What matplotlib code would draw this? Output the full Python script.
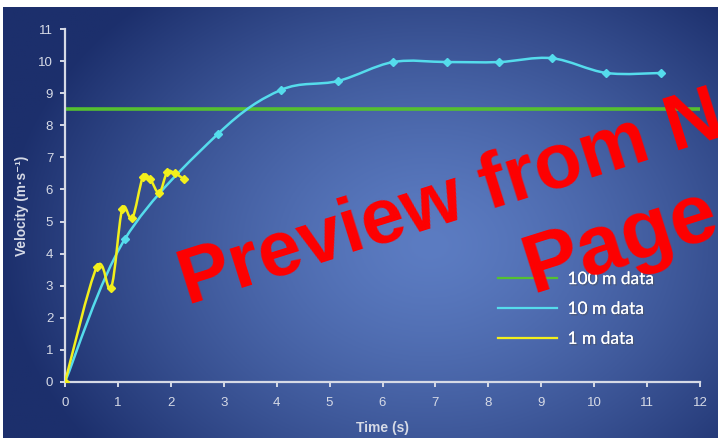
import numpy as np
import matplotlib
matplotlib.use("Agg")
import matplotlib.pyplot as plt
from matplotlib.path import Path
from matplotlib.patches import PathPatch
from matplotlib.lines import Line2D
import matplotlib.patheffects as pe

# ---------------- data ----------------
t_10m = [0.0, 1.13, 2.89, 4.08, 5.16, 6.20, 7.22, 8.20, 9.20, 10.23, 11.27]
v_10m = [0.0, 4.45, 7.73, 9.10, 9.38, 9.97, 9.97, 9.97, 10.09, 9.63, 9.63]

t_1m = [0.0, 0.60, 0.87, 1.08, 1.27, 1.47, 1.61, 1.78, 1.93, 2.08, 2.25]
v_1m = [0.0, 3.58, 2.93, 5.38, 5.10, 6.38, 6.32, 5.89, 6.54, 6.50, 6.32]

v_100m = 8.5

series_labels = ["100 m data", "10 m data", "1 m data"]
x_ticks = list(range(0, 13))
y_ticks = list(range(0, 12))

# colours
C_GREEN = "#55c030"
C_CYAN = "#55dcec"
C_YELLOW = "#f2ef1c"
C_AXIS = "#d6dae6"

W, H = 718, 438
fig = plt.figure(figsize=(W / 100, H / 100), dpi=100)
fig.patch.set_facecolor("white")

# ---------------- gradient background ----------------
bg = fig.add_axes([3 / W, 0, (W - 3) / W, (H - 7) / H])
bg.set_axis_off()
nx, ny = 360, 220
xs = np.linspace(3, W, nx)
ys = np.linspace(7, H, ny)
X, Y = np.meshgrid(xs, ys)
cx, cy, rx, ry = 430, 245, 430, 330
d = np.sqrt(((X - cx) / rx) ** 2 + ((Y - cy) / ry) ** 2)
d = np.clip(d, 0, 1) ** 1.4
c0 = np.array([92, 124, 194]) / 255.0
c1 = np.array([28, 47, 108]) / 255.0
img = c0[None, None, :] + (c1 - c0)[None, None, :] * d[:, :, None]
bg.imshow(img, aspect="auto", extent=[0, 1, 0, 1], origin="upper")
bg.set_xlim(0, 1)
bg.set_ylim(0, 1)

# ---------------- main axes ----------------
ax = fig.add_axes([65 / W, (H - 382) / H, (700 - 65) / W, (382 - 29) / H])
ax.set_facecolor("none")
ax.set_xlim(0, 12)
ax.set_ylim(0, 11)
for s in ["top", "right"]:
    ax.spines[s].set_visible(False)
for s in ["left", "bottom"]:
    ax.spines[s].set_color(C_AXIS)
    ax.spines[s].set_linewidth(1.6)
ax.set_xticks(x_ticks)
ax.set_yticks(y_ticks)
ax.tick_params(axis="both", colors=C_AXIS, width=1.4, length=3.5, direction="out")
ax.tick_params(axis="x", pad=7)
ax.tick_params(axis="y", pad=5)
for lab in ax.get_xticklabels() + ax.get_yticklabels():
    lab.set_fontfamily("Liberation Sans")
    lab.set_fontsize(9.5)
    lab.set_color(C_AXIS)


def smooth_path(xv, yv):
    """Excel-like smoothed line: cubic Bezier segments through the points."""
    P = np.column_stack([xv, yv])
    n = len(P)
    verts = [P[0]]
    codes = [Path.MOVETO]
    for i in range(n - 1):
        p_prev = P[i - 1] if i > 0 else P[i]
        p_next2 = P[i + 2] if i + 2 < n else P[i + 1]
        c1 = P[i] + (P[i + 1] - p_prev) / 6.0
        c2 = P[i + 1] - (p_next2 - P[i]) / 6.0
        verts += [c1, c2, P[i + 1]]
        codes += [Path.CURVE4] * 3
    return Path(verts, codes)


# 100 m data
ax.axhline(v_100m, color=C_GREEN, lw=2.6, zorder=2)

# 10 m data
ax.add_patch(PathPatch(smooth_path(t_10m, v_10m), fill=False,
                       edgecolor=C_CYAN, lw=1.8, zorder=3))
ax.plot(t_10m[1:], v_10m[1:], ls="none", marker="D", ms=4.5,
        color=C_CYAN, zorder=4)

# 1 m data
ax.add_patch(PathPatch(smooth_path(t_1m, v_1m), fill=False,
                       edgecolor=C_YELLOW, lw=1.8, zorder=5))
ax.plot(t_1m, v_1m, ls="none", marker="D", ms=4.2,
        color=C_YELLOW, zorder=6)

# axis labels
ax.set_xlabel("Time (s)", fontfamily="Liberation Sans", fontweight="bold",
              fontsize=10, color=C_AXIS)
ax.xaxis.set_label_coords(0.5, -0.11)
ax.set_ylabel("Velocity (m\u00b7s\u207b\u00b9)", fontfamily=["Liberation Sans", "DejaVu Sans"],
              fontweight="bold", fontsize=9.8, color=C_AXIS)
ax.yaxis.set_label_coords(-0.057, 0.5)

# legend
handles = [Line2D([], [], color=C_GREEN, lw=1.6),
           Line2D([], [], color=C_CYAN, lw=1.6),
           Line2D([], [], color=C_YELLOW, lw=1.6)]
leg = ax.legend(handles, series_labels, loc="center left",
                bbox_to_anchor=(498 / W, 1 - 309 / H), bbox_transform=fig.transFigure,
                frameon=False, borderpad=0, borderaxespad=0,
                handlelength=3.4, handletextpad=0.6, labelspacing=0.8,
                prop={"family": "Lato", "size": 12.5})
for txt in leg.get_texts():
    txt.set_color("white")
    txt.set_path_effects([pe.withSimplePatchShadow(offset=(1, -1), alpha=0.5),
                          pe.Normal()])

# watermark
wm = dict(color="#ff0000", fontfamily="Liberation Sans", fontweight="bold",
          rotation=17.5, rotation_mode="anchor",
          ha="left", va="baseline", zorder=20)
fig.text(188 / W, 1 - 305 / H, "Preview from N", fontsize=56, **wm)
fig.text(532 / W, 1 - 293 / H, "Page", fontsize=60, **wm)

fig.savefig("out.png", dpi=100)
